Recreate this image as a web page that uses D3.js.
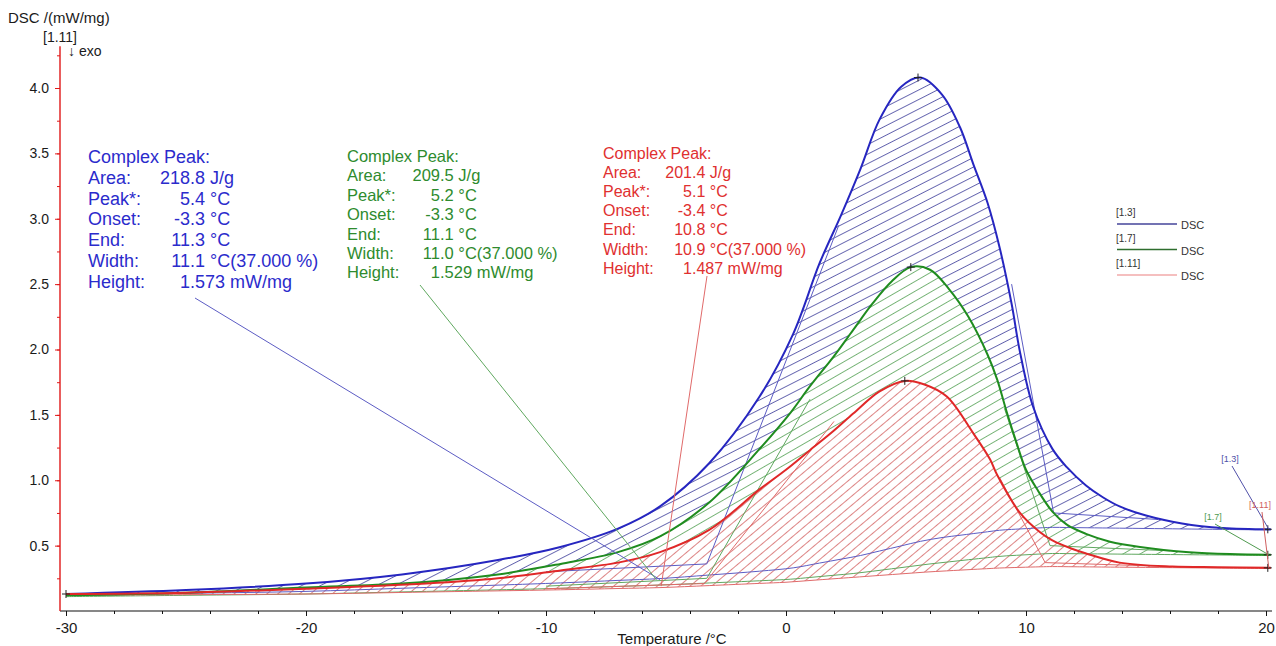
<!DOCTYPE html>
<html>
<head>
<meta charset="utf-8">
<script src="https://cdn.jsdelivr.net/npm/d3@7"></script>
<style>
body { margin: 0; background: #fff; }
svg { font-family: Arial, "Liberation Sans", sans-serif; }
</style>
</head>
<body>
<div class="chart"></div>
<script>
var width = 1276, height = 646;

// series names, as the software labels them
var names = ["[1.3]", "[1.7]", "[1.11]"];

// DSC curves (temperature in °C, DSC in mW/mg)
var blueT = [-30,-25,-20,-16,-12,-9.4,-7,-5.25,-3.2,-1.1,0.3,1.4,2.3,3.1,3.9,4.8,5.6,6.5,7.25,7.8,8.4,8.9,9.4,9.75,10.3,11.1,11.7,12.5,13.2,13.9,15,16.5,18.2,20.2];
var blueV = [0.13,0.16,0.21,0.28,0.39,0.49,0.63,0.80,1.13,1.64,2.12,2.66,3.03,3.38,3.76,4.01,4.08,3.95,3.70,3.42,3.12,2.78,2.35,1.98,1.56,1.24,1.10,0.96,0.87,0.80,0.73,0.67,0.635,0.625];
var greenT = [-30,-25,-20,-16,-12,-9.4,-7,-5.25,-3.2,-1.1,0.2,1.0,2.0,2.8,3.6,4.4,5.2,6.0,6.8,7.6,8.4,8.8,9.2,9.6,10.0,10.5,11.1,11.7,12.5,13.5,14.75,16.8,18.5,20.2];
var greenV = [0.12,0.14,0.18,0.21,0.28,0.36,0.45,0.57,0.83,1.24,1.52,1.72,1.95,2.15,2.35,2.52,2.63,2.61,2.46,2.25,1.96,1.77,1.52,1.29,1.08,0.92,0.76,0.66,0.59,0.53,0.49,0.45,0.435,0.43];
var redT = [-30,-25,-20,-15,-12,-9.4,-7,-5.25,-3.2,-1.1,0,1.0,2.0,2.8,3.9,4.96,5.8,6.7,7.8,8.5,8.8,9.75,10.6,11.1,12.0,12.5,13.9,16.1,18,20.2];
var redV = [0.13,0.14,0.17,0.21,0.25,0.31,0.37,0.45,0.62,0.93,1.08,1.23,1.38,1.51,1.68,1.76,1.73,1.64,1.36,1.16,1.04,0.75,0.60,0.54,0.47,0.44,0.37,0.34,0.335,0.33];

// integration baselines
var baseT = [-30,-20,-10,-5,0,3,6,9,11,20];
var blueBase = [0.12,0.15,0.21,0.25,0.32,0.42,0.55,0.62,0.64,0.62];
var greenBase = [0.11,0.13,0.17,0.20,0.24,0.29,0.36,0.42,0.44,0.425];
var redBase = [0.12,0.13,0.16,0.18,0.22,0.26,0.30,0.33,0.34,0.325];

// onset / end constructions: [T, value] points
var blueOnset = [[-10,0.30],[-3.3,0.36],[2.2,2.95]];
var blueEnd = [[9.4,2.50],[11.15,0.75],[15.5,0.70]];
var greenOnset = [[-10,0.19],[-3.3,0.25],[1.0,1.62]];
var greenEnd = [[9.1,1.55],[11.0,0.50],[16,0.46]];
var redOnset = [[-10,0.17],[-3.4,0.21],[2.0,1.45]];
var redEnd = [[8.9,1.02],[10.8,0.37],[16,0.34]];

// peak markers and where the result boxes point
var peakT = [5.5, 5.2, 4.95], peakV = [4.08, 2.63, 1.76];
var pointerT = [-5.25, -5.4, -5.2], pointerV = [0.24, 0.24, 0.19];

// result boxes
var peakLabels = ["Area:", "Peak*:", "Onset:", "End:", "Width:", "Height:"];
var blueVals = ["218.8 J/g", "5.4 °C", "-3.3 °C", "11.3 °C", "11.1 °C(37.000 %)", "1.573 mW/mg"];
var greenVals = ["209.5 J/g", "5.2 °C", "-3.3 °C", "11.1 °C", "11.0 °C(37.000 %)", "1.529 mW/mg"];
var redVals = ["201.4 J/g", "5.1 °C", "-3.4 °C", "10.8 °C", "10.9 °C(37.000 %)", "1.487 mW/mg"];

var xTicks = [-30, -20, -10, 0, 10, 20];
var yTicks = [0.5, 1.0, 1.5, 2.0, 2.5, 3.0, 3.5, 4.0];

var curveColors = ["#2626c0", "#1f8c1f", "#e02828"];
var textColors = ["#2b2bcc", "#2e8b2e", "#e03030"];
var hatchColors = ["#6464ae", "#74b274", "#dd8585"];
var thinColors = ["#5c5cc4", "#5fa85f", "#e06a6a"];
var legendColors = ["#44449a", "#2e6e2e", "#f2aaaa"];

var series = [
    {T: blueT, V: blueV, base: blueBase, onset: blueOnset, end: blueEnd, vals: blueVals},
    {T: greenT, V: greenV, base: greenBase, onset: greenOnset, end: greenEnd, vals: greenVals},
    {T: redT, V: redV, base: redBase, onset: redOnset, end: redEnd, vals: redVals}
];

var svg = d3.select(".chart").append("svg")
    .attr("width", width)
    .attr("height", height);

var x = d3.scaleLinear().domain([-30, 20]).range([66, 1266]);
var y = d3.scaleLinear().domain([0, 4]).range([611, 88]);

// hatch patterns (white under the lines so later areas hide earlier ones)
var defs = svg.append("defs");
var hatchAngle = [-27, -30, -40], hatchGap = [8.5, 8.5, 7];
series.forEach((s, i) => {
    var p = defs.append("pattern")
        .attr("id", "hatch" + i)
        .attr("patternUnits", "userSpaceOnUse")
        .attr("width", 10)
        .attr("height", hatchGap[i])
        .attr("patternTransform", "rotate(" + hatchAngle[i] + ")");
    p.append("rect").attr("width", 10).attr("height", hatchGap[i]).attr("fill", "#fff");
    p.append("line")
        .attr("x1", 0).attr("x2", 10)
        .attr("y1", hatchGap[i] / 2).attr("y2", hatchGap[i] / 2)
        .attr("stroke", hatchColors[i])
        .attr("stroke-width", 1);
});

// axes
var xMinor = svg.append("g")
    .attr("transform", "translate(0,611)")
    .call(d3.axisBottom(x).tickValues(d3.range(-30, 21, 2)).tickSize(3).tickFormat(""));
var xAxis = svg.append("g")
    .attr("transform", "translate(0,611)")
    .call(d3.axisBottom(x).tickValues(xTicks).tickSize(5).tickPadding(6).tickFormat(d => String(d)));
[xMinor, xAxis].forEach(a => {
    a.select(".domain").remove();
    a.selectAll("line").attr("stroke", "#111");
});
xAxis.selectAll("text").attr("fill", "#1a1a1a").style("font-size", "15px");
svg.append("line")
    .attr("x1", x(-30.25)).attr("x2", x(20.25))
    .attr("y1", y(0)).attr("y2", y(0))
    .attr("stroke", "#111").attr("stroke-width", 1.2);

var yMinor = svg.append("g")
    .attr("transform", "translate(60,0)")
    .call(d3.axisLeft(y).tickValues(d3.range(0.25, 4.3, 0.25)).tickSize(3).tickFormat(""));
var yAxis = svg.append("g")
    .attr("transform", "translate(60,0)")
    .call(d3.axisLeft(y).tickValues(yTicks).tickSize(5).tickPadding(6).tickFormat(d => d.toFixed(1)));
[yMinor, yAxis].forEach(a => {
    a.select(".domain").remove();
    a.selectAll("line").attr("stroke", "#e01818");
});
yAxis.selectAll("text").attr("fill", "#1a1a1a").style("font-size", "14px");
svg.append("line")
    .attr("x1", 60).attr("x2", 60)
    .attr("y1", y(0)).attr("y2", y(4.32))
    .attr("stroke", "#e01818").attr("stroke-width", 1.4);

svg.append("text").attr("x", 8).attr("y", 23).style("font-size", "15px").attr("fill", "#1a1a1a").text("DSC /(mW/mg)");
svg.append("text").attr("x", 60).attr("y", 42).attr("text-anchor", "middle").style("font-size", "14px").attr("fill", "#1a1a1a").text("[1.11]");
svg.append("text").attr("x", 68).attr("y", 56).style("font-size", "14px").attr("fill", "#1a1a1a").text("↓ exo");
svg.append("text").attr("x", 672).attr("y", 644).attr("text-anchor", "middle").style("font-size", "15px").attr("fill", "#1a1a1a").text("Temperature /°C");

// hatched peak areas
var lineGen = d3.line().x(d => x(d[0])).y(d => y(d[1])).curve(d3.curveCatmullRom.alpha(0.5));
series.forEach((s, i) => {
    var baseScale = d3.scaleLinear().domain(baseT).range(s.base);
    s.pts = s.T.map((t, k) => [t, s.V[k], baseScale(t)]);
    var area = d3.area()
        .x(d => x(d[0]))
        .y0(d => y(d[2]))
        .y1(d => y(d[1]))
        .curve(d3.curveCatmullRom.alpha(0.5));
    svg.append("path").datum(s.pts).attr("d", area).attr("fill", "url(#hatch" + i + ")");
});

// baselines and tangent constructions
series.forEach((s, i) => {
    svg.append("path")
        .datum(s.pts.map(d => [d[0], d[2]]))
        .attr("d", lineGen)
        .attr("fill", "none").attr("stroke", thinColors[i]).attr("stroke-width", 1);
    [s.onset, s.end].forEach(c => {
        svg.append("path")
            .datum(c)
            .attr("d", d3.line().x(d => x(d[0])).y(d => y(d[1])))
            .attr("fill", "none").attr("stroke", thinColors[i]).attr("stroke-width", 1);
    });
});

// curves
series.forEach((s, i) => {
    svg.append("path")
        .datum(s.pts)
        .attr("d", lineGen)
        .attr("fill", "none").attr("stroke", curveColors[i]).attr("stroke-width", 2);
});

// markers
function cross(px, py) {
    svg.append("path")
        .attr("d", "M" + (px - 4) + "," + py + "h8M" + px + "," + (py - 4) + "v8")
        .attr("stroke", "#222").attr("stroke-width", 1);
}
series.forEach((s, i) => {
    cross(x(peakT[i]), y(peakV[i]));
    cross(x(s.T[s.T.length - 1]) - 3, y(s.V[s.V.length - 1]));
});
cross(x(blueT[0]), y(blueV[0]));

// result boxes and pointer lines
var blocks = [
    {x: 88, y: 163, dy: 20.8, fs: 18, dec: 190, lx: 195, ly: 298},
    {x: 347, y: 162, dy: 19.4, fs: 16.5, dec: 440, lx: 420, ly: 285},
    {x: 603, y: 159, dy: 19.1, fs: 16, dec: 692, lx: 707, ly: 276}
];
blocks.forEach((b, i) => {
    svg.append("line")
        .attr("x1", b.lx).attr("y1", b.ly)
        .attr("x2", x(pointerT[i])).attr("y2", y(pointerV[i]))
        .attr("stroke", thinColors[i]).attr("stroke-width", 1);
    var g = svg.append("g").attr("fill", textColors[i]).style("font-size", b.fs + "px");
    g.append("text").attr("x", b.x).attr("y", b.y).text("Complex Peak:");
    peakLabels.forEach((lab, j) => {
        var yy = b.y + b.dy * (j + 1);
        var v = series[i].vals[j], k = v.indexOf(".");
        g.append("text").attr("x", b.x).attr("y", yy).text(lab);
        g.append("text").attr("x", b.dec).attr("y", yy).attr("text-anchor", "end").text(v.slice(0, k));
        g.append("text").attr("x", b.dec).attr("y", yy).text(v.slice(k));
    });
});

// legend
names.forEach((n, i) => {
    var ly = 216 + 25.5 * i;
    svg.append("text").attr("x", 1116).attr("y", ly).style("font-size", "10px").attr("fill", "#333").text(n);
    svg.append("line")
        .attr("x1", 1117).attr("x2", 1177).attr("y1", ly + 8).attr("y2", ly + 8)
        .attr("stroke", legendColors[i]).attr("stroke-width", 1.3);
    svg.append("text").attr("x", 1181).attr("y", ly + 13).style("font-size", "11px").attr("fill", "#333").text("DSC");
});

// curve-end tags
var tagPos = [[1230, 462], [1213, 520], [1260, 508]];
var tagColors = ["#5050a8", "#4f9a4f", "#d06060"];
series.forEach((s, i) => {
    var ex = x(s.T[s.T.length - 1]) - 2, ey = y(s.V[s.V.length - 1]);
    svg.append("line")
        .attr("x1", tagPos[i][0] + 2).attr("y1", tagPos[i][1] + 4)
        .attr("x2", ex).attr("y2", ey)
        .attr("stroke", tagColors[i]).attr("stroke-width", 1);
    svg.append("text")
        .attr("x", tagPos[i][0]).attr("y", tagPos[i][1])
        .attr("text-anchor", "middle")
        .style("font-size", "9px").attr("fill", tagColors[i]).text(names[i]);
});
</script>
</body>
</html>
